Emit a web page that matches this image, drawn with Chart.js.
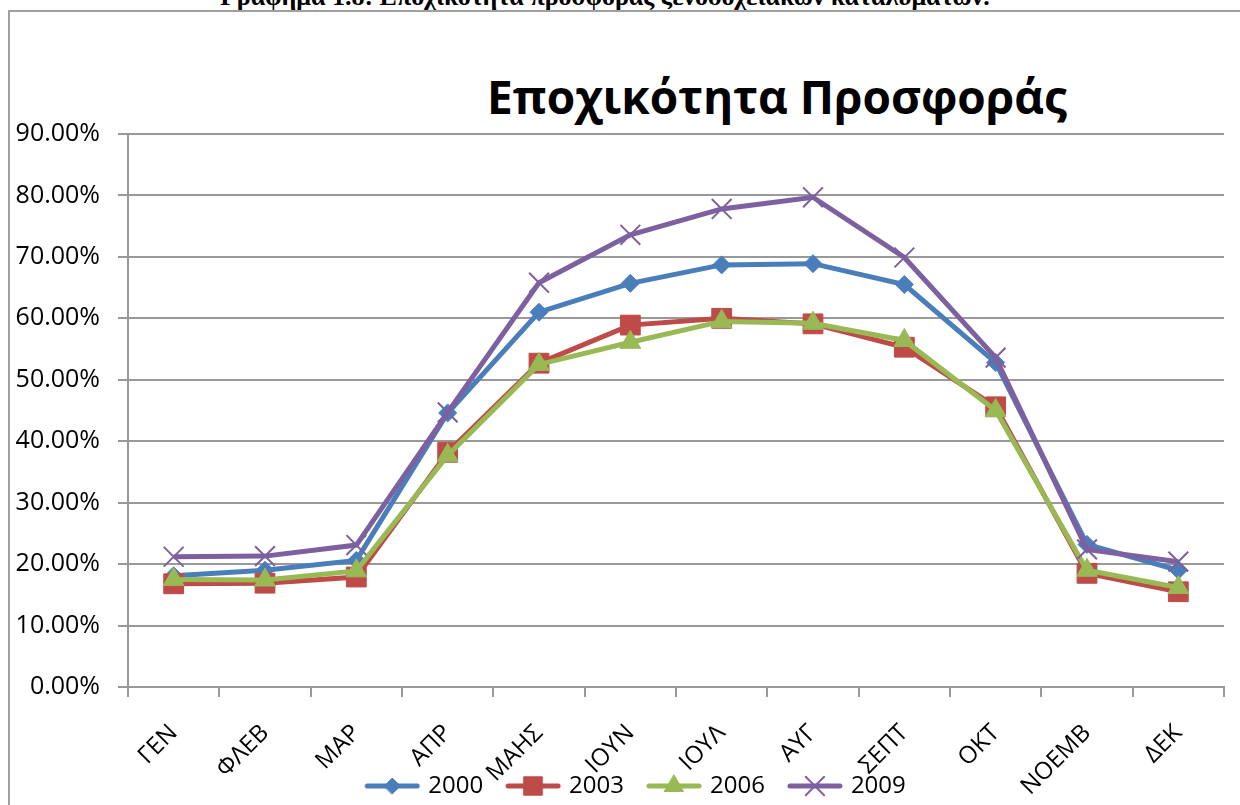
<!DOCTYPE html>
<html>
<head>
<meta charset="utf-8">
<script src="https://cdn.jsdelivr.net/npm/chart.js@4.4.1/dist/chart.umd.min.js"></script>
<style>
    html, body { margin: 0; padding: 0; background: #fff; overflow: hidden; }
    #wrap { position: relative; width: 1240px; height: 805px; overflow: hidden; }
    #frame { position: absolute; left: 8px; top: 10px; width: 1300px; height: 900px;
             border-left: 2px solid #a0a0a0; border-top: 2px solid #a0a0a0; }
    #caption { position: absolute; left: 605px; top: -18px; transform: translateX(-50%);
               font: bold 26px "Liberation Serif", serif; color: #000; white-space: nowrap; }
    #titulo { position: absolute; left: 777px; top: 65px; transform: translateX(-50%);
              font: bold 46px "Open Sans", sans-serif; color: #000; white-space: nowrap; }
    canvas { position: absolute; left: 0; top: 0; }
</style>
</head>
<body>
<div id="wrap">
    <div id="caption">Γράφημα 1.8: Εποχικότητα προσφοράς ξενοδοχειακών καταλυμάτων.</div>
    <div id="frame"></div>
    <div id="titulo">Εποχικότητα Προσφοράς</div>
    <canvas id="grafico" width="1240" height="865"></canvas>
</div>
<script>
// ---- dados (%) ----
const meses = ['ΓΕΝ', 'ΦΛΕΒ', 'ΜΑΡ', 'ΑΠΡ', 'ΜΑΗΣ', 'ΙΟΥΝ', 'ΙΟΥΛ', 'ΑΥΓ', 'ΣΕΠΤ', 'ΟΚΤ', 'ΝΟΕΜΒ', 'ΔΕΚ'];
const serie2000 = [18.1, 19.0, 20.6, 44.6, 61.0, 65.7, 68.7, 68.9, 65.5, 52.8, 23.2, 19.0];
const serie2003 = [16.8, 16.9, 17.9, 38.2, 52.7, 58.9, 60.0, 59.1, 55.3, 45.6, 18.5, 15.5];
const serie2006 = [17.5, 17.4, 18.9, 37.7, 52.5, 56.1, 59.5, 59.2, 56.4, 45.0, 19.0, 16.2];
const serie2009 = [21.2, 21.3, 23.1, 44.7, 65.8, 73.6, 77.8, 79.7, 69.9, 53.6, 22.4, 20.4];
const anos = ['2000', '2003', '2006', '2009'];
const yTicks = [0, 10, 20, 30, 40, 50, 60, 70, 80, 90];

const estilos = [
    { cor: '#4a7ebb', ponto: 'rectRot',  raio: 9,  legenda: 8,  borda: 1 },
    { cor: '#be4b48', ponto: 'rect',     raio: 14, legenda: 13, borda: 1 },
    { cor: '#98b954', ponto: 'triangle', raio: 12, legenda: 11, borda: 1 },
    { cor: '#7d60a0', ponto: 'crossRot', raio: 14, legenda: 13, borda: 2 }
];
const valores = [serie2000, serie2003, serie2006, serie2009];

// amostra da legenda: linha + marcador
function criarAmostra(est) {
    const c = document.createElement('canvas');
    c.width = 58; c.height = 30;
    const ctx = c.getContext('2d');
    ctx.strokeStyle = est.cor;
    ctx.lineWidth = 5;
    ctx.lineCap = 'round';
    ctx.beginPath(); ctx.moveTo(4, 15); ctx.lineTo(54, 15); ctx.stroke();
    ctx.fillStyle = est.cor;
    ctx.strokeStyle = est.cor;
    ctx.lineWidth = est.borda;
    Chart.helpers.drawPoint(ctx, { pointStyle: est.ponto, radius: est.legenda, rotation: 0, borderWidth: est.borda }, 29, 15);
    return c;
}
const amostras = estilos.map(criarAmostra);

const datasets = anos.map((ano, i) => ({
    label: ano,
    data: valores[i],
    borderColor: estilos[i].cor,
    backgroundColor: estilos[i].cor,
    borderWidth: 5,
    pointStyle: estilos[i].ponto,
    pointRadius: estilos[i].raio,
    pointBorderWidth: estilos[i].borda,
    pointBackgroundColor: estilos[i].cor,
    pointBorderColor: estilos[i].cor,
    tension: 0,
    order: anos.length - i
}));

const fonteEixo = { family: '"Open Sans", sans-serif', size: 25 };
const fonteMes = { family: '"Open Sans", sans-serif', size: 24 };

// a legenda fica por cima dos rótulos do eixo x, como no original
const moverLegenda = {
    id: 'moverLegenda',
    afterLayout(chart) {
        const lg = chart.legend;
        if (!lg) return;
        lg.left += 24; lg.right += 24;
        lg.top -= 57; lg.bottom -= 57;
    }
};

new Chart(document.getElementById('grafico'), {
    type: 'line',
    data: { labels: meses, datasets },
    plugins: [moverLegenda],
    options: {
        responsive: false,
        animation: false,
        layout: { padding: { left: 0, right: 14, top: 134, bottom: 0 } },
        scales: {
            x: {
                offset: true,
                grid: { offset: true, drawOnChartArea: false, drawTicks: true, tickLength: 10, color: '#999', lineWidth: 2 },
                border: { display: true, color: '#999', width: 2 },
                ticks: { color: '#000', font: fonteMes, minRotation: 45, maxRotation: 45, padding: 22, autoSkip: false },
                afterFit: s => { s.height = 118; }
            },
            y: {
                min: 0, max: 90,
                afterBuildTicks: s => { s.ticks = yTicks.map(v => ({ value: v })); },
                grid: { color: '#999', lineWidth: 2, tickLength: 10 },
                border: { display: true, color: '#999', width: 2 },
                ticks: { color: '#000', font: fonteEixo, padding: 18, callback: v => v.toFixed(2) + '%' },
                afterFit: s => { s.width = 128; }
            }
        },
        plugins: {
            title: { display: false },
            tooltip: { enabled: false },
            legend: {
                position: 'bottom',
                labels: {
                    color: '#000',
                    font: { family: '"Open Sans", sans-serif', size: 24 },
                    usePointStyle: true,
                    pointStyleWidth: 48,
                    padding: 26,
                    generateLabels: chart => chart.data.datasets.map((ds, i) => ({
                        text: ds.label,
                        fillStyle: ds.borderColor,
                        strokeStyle: ds.borderColor,
                        fontColor: '#000',
                        pointStyle: amostras[i],
                        lineWidth: 0,
                        hidden: false,
                        datasetIndex: i
                    }))
                }
            }
        }
    }
});
</script>
</body>
</html>
